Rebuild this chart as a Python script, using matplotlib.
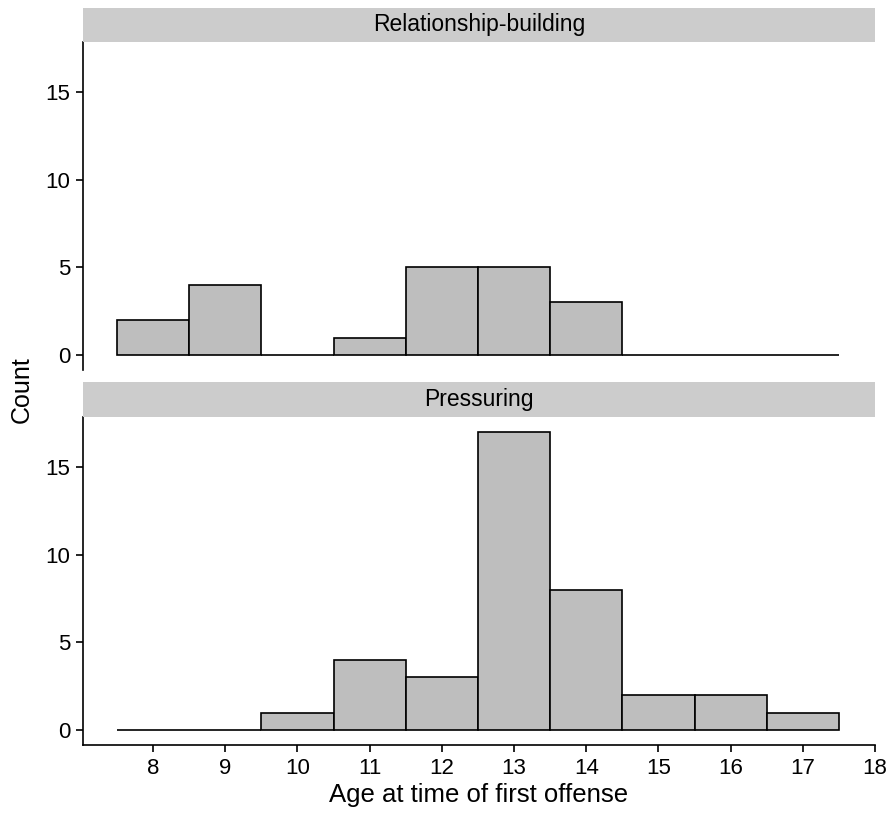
import numpy as np
import matplotlib.pyplot as plt

plt.rcParams['font.family'] = ['Liberation Sans', 'DejaVu Sans']

ages = [8, 9, 10, 11, 12, 13, 14, 15, 16, 17]
relationship_counts = [2, 4, 0, 1, 5, 5, 3, 0, 0, 0]
pressuring_counts = [0, 0, 1, 4, 3, 17, 8, 2, 2, 1]
panels = [("Relationship-building", relationship_counts),
          ("Pressuring", pressuring_counts)]

fig = plt.figure(figsize=(8.92, 8.16), dpi=100)
left, width = 83 / 892, (875 - 83) / 892
# (axes bottom, axes top, strip top) in figure fractions
boxes = [(1 - 370 / 816, 1 - 42 / 816, 1 - 8 / 816),
         (1 - 745 / 816, 1 - 417 / 816, 1 - 382 / 816)]

for i, ((title, counts), (b, t, st)) in enumerate(zip(panels, boxes)):
    ax = fig.add_axes([left, b, width, t - b])
    ax.bar(ages, counts, width=1.0, color='#BEBEBE', edgecolor='black', linewidth=1.2)
    ax.set_xlim(7.03, 18.0)
    ax.set_ylim(-0.85, 17.85)
    ax.set_yticks([0, 5, 10, 15])
    ax.set_xticks(range(8, 19))
    for s in ['top', 'right']:
        ax.spines[s].set_visible(False)
    ax.spines['left'].set_linewidth(1.2)
    ax.spines['bottom'].set_linewidth(1.2)
    ax.tick_params(labelsize=16, length=5, width=1.2, pad=4, colors='black')
    if i == 0:
        ax.spines['bottom'].set_visible(False)
        ax.tick_params(axis='x', bottom=False, labelbottom=False)
    else:
        ax.set_xlabel("Age at time of first offense", fontsize=18.5, labelpad=3)
    sax = fig.add_axes([left, t, width, st - t])
    sax.set_facecolor('#CCCCCC')
    sax.set_xticks([])
    sax.set_yticks([])
    for s in sax.spines.values():
        s.set_visible(False)
    sax.text(0.5, 0.5, title, ha='center', va='center', fontsize=16.5, transform=sax.transAxes)

fig.text(22 / 892, 1 - 390 / 816, "Count", rotation=90, ha='center', va='center', fontsize=18)

fig.savefig('out.png', dpi=100)
